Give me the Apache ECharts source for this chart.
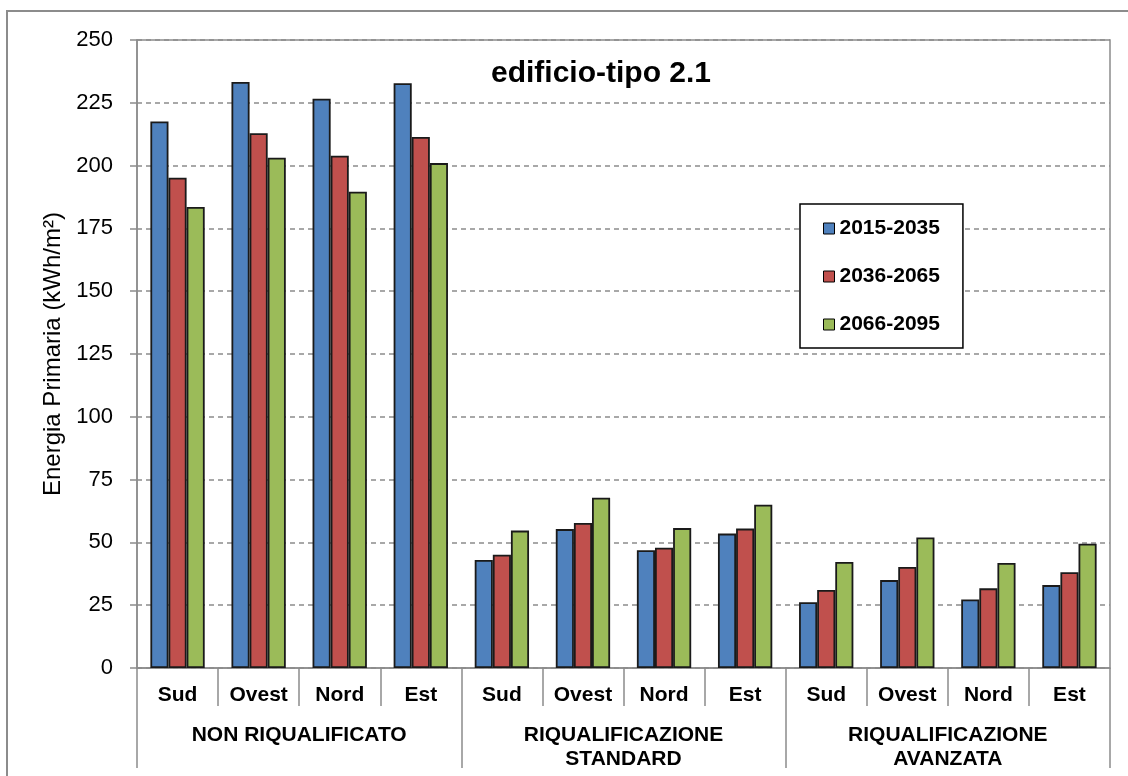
<!DOCTYPE html>
<html>
<head>
<meta charset="utf-8">
<script src="https://cdn.jsdelivr.net/npm/echarts@6/dist/echarts.min.js"></script>
<style>
html,body{margin:0;padding:0;background:#fff;}
#chart{width:1128px;height:776px;}
</style>
</head>
<body>
<div id="chart"></div>
<script>
// ---- data ----
const orientations = ["Sud", "Ovest", "Nord", "Est", "Sud", "Ovest", "Nord", "Est", "Sud", "Ovest", "Nord", "Est"];
const groups = ["NON RIQUALIFICATO", "RIQUALIFICAZIONE\nSTANDARD", "RIQUALIFICAZIONE\nAVANZATA"];
const seriesNames = ["2015-2035", "2036-2065", "2066-2095"];
const p2015_2035 = [217.6, 233.3, 226.6, 232.8, 43.0, 55.3, 46.9, 53.5, 26.2, 35.0, 27.3, 33.0];
const p2036_2065 = [195.2, 212.9, 203.9, 211.4, 45.1, 57.7, 47.9, 55.5, 31.1, 40.2, 31.7, 38.1];
const p2066_2095 = [183.5, 203.1, 189.6, 201.0, 54.7, 67.8, 55.7, 65.0, 42.2, 52.0, 41.8, 49.5];
const yTicks = [0, 25, 50, 75, 100, 125, 150, 175, 200, 225, 250];
const chartTitle = "edificio-tipo 2.1";
const yName = "Energia Primaria (kWh/m\u00B2)";

// ---- chart ----
const FONT = "'Liberation Sans', Arial, sans-serif";
const GRAY = "#8c8c8c";
const colors = ["#4f81bd", "#c0504d", "#9bbb59"];
const values = [p2015_2035, p2036_2065, p2066_2095];
const catKeys = orientations.map((o, i) => o + "|" + i);

const chart = echarts.init(document.getElementById("chart"), null, {renderer: "canvas"});
chart.setOption({
  animation: false,
  backgroundColor: "#fff",
  textStyle: {fontFamily: FONT},
  grid: {left: 137, right: 18, top: 40, bottom: 108, show: true, borderColor: GRAY, borderWidth: 1.5, backgroundColor: "transparent"},
  legend: {
    data: seriesNames,
    orient: "vertical",
    left: 800, top: 204,
    width: 163,
    padding: [14, 23, 13, 23],
    itemGap: 27,
    itemWidth: 11, itemHeight: 11,
    icon: "rect",
    borderColor: "#000", borderWidth: 1.5,
    backgroundColor: "#fff",
    itemStyle: {borderColor: "#000", borderWidth: 1},
    textStyle: {fontFamily: FONT, fontSize: 21, fontWeight: "bold", color: "#000"}
  },
  xAxis: [
    {
      type: "category",
      data: catKeys,
      position: "bottom",
      axisLine: {show: true, lineStyle: {color: GRAY, width: 1.5}},
      axisTick: {show: true, interval: 0, length: 38, lineStyle: {color: GRAY, width: 1.5}},
      axisLabel: {interval: 0, margin: 17, fontFamily: FONT, fontSize: 21, fontWeight: "bold", color: "#000",
        formatter: v => v.split("|")[0]},
      splitLine: {show: false}
    },
    {
      type: "category",
      data: groups,
      position: "bottom",
      axisLine: {show: false},
      axisTick: {show: true, interval: 0, length: 100, lineStyle: {color: GRAY, width: 1.5}},
      axisLabel: {interval: 0, margin: 55, fontFamily: FONT, fontSize: 21, fontWeight: "bold", color: "#000", lineHeight: 24},
      splitLine: {show: false}
    }
  ],
  yAxis: {
    type: "value",
    min: yTicks[0], max: yTicks[yTicks.length - 1], interval: 25,
    name: yName,
    nameLocation: "middle",
    nameGap: 69,
    nameTextStyle: {fontFamily: FONT, fontSize: 24, color: "#000"},
    axisLine: {show: true, lineStyle: {color: GRAY, width: 1.5}},
    axisTick: {show: true, length: 7, lineStyle: {color: GRAY, width: 1.5}},
    axisLabel: {margin: 24, fontFamily: FONT, fontSize: 22, color: "#000"},
    splitLine: {show: true, lineStyle: {color: GRAY, type: [5, 4], width: 1.5}}
  },
  series: seriesNames.map((n, i) => ({
    name: n,
    type: "bar",
    data: values[i],
    barGap: "0%",
    barCategoryGap: "33%",
    itemStyle: {color: colors[i], borderColor: "#1a1a1a", borderWidth: 1.8}
  })),
  graphic: [
    {type: "rect", shape: {x: 7, y: 11, width: 1200, height: 900}, style: {fill: "none", stroke: GRAY, lineWidth: 2}, silent: true, z: -1},
    {type: "text", x: 601, y: 74, style: {text: chartTitle, fill: "#000", font: "bold 30px " + FONT, textAlign: "center", textVerticalAlign: "middle"}}
  ]
});
</script>
</body>
</html>
